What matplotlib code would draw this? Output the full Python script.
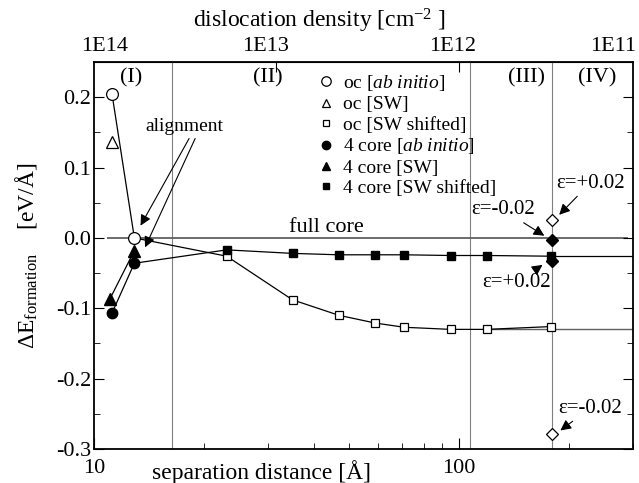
import numpy as np
import matplotlib.pyplot as plt
from matplotlib.ticker import MultipleLocator, NullLocator, FixedLocator, NullFormatter

plt.rcParams['font.family'] = 'Liberation Serif'
plt.rcParams['mathtext.fontset'] = 'custom'
plt.rcParams['mathtext.rm'] = 'Liberation Serif'
plt.rcParams['mathtext.it'] = 'Liberation Serif:italic'

# separation distance [A] and formation energy [eV/A]
sep_ab = [11.2, 12.9]
E_oc_ab = [0.205, 0.0]
E_4c_ab = [-0.107, -0.036]
sep_oc_sw = [11.2]
E_oc_sw = [0.137]
sep_4c_sw = [11.05, 12.9]
E_4c_sw = [-0.087, -0.018]
sep_sw = [23.1, 35.0, 46.9, 59.0, 70.8, 94.9, 119.1, 179.0]
E_oc_shift = [-0.026, -0.088, -0.110, -0.121, -0.127, -0.130, -0.130, -0.126]
E_4c_shift = [-0.017, -0.022, -0.024, -0.024, -0.024, -0.025, -0.025, -0.026]

# strained cells
sep_strain = [180.0, 180.0]
E_oc_strain = [0.025, -0.278]
E_4c_strain = [-0.003, -0.033]
strain_oc = ['ε=+0.02', 'ε=-0.02']
strain_4c = ['ε=-0.02', 'ε=+0.02']

region_labels = ['(I)', '(II)', '(III)', '(IV)']
region_x = [12.6, 30.0, 153, 239]
region_bounds = [16.4, 107, 180]

density = [1e14, 1e13, 1e12, 1e11]
density_labels = ['1E14', '1E13', '1E12', '1E11']

fig = plt.figure(figsize=(6.39, 4.83), dpi=100)
ax = fig.add_axes([94/639, 34/483, 539/639, 387/483])
ax.set_xscale('log')
ax.set_xlim(10, 300)
ax.set_ylim(-0.3, 0.25)

for xb in region_bounds:
    ax.axvline(xb, color='#808080', lw=0.8, zorder=1)
ax.hlines(0, 10.85, 290, color='#606060', lw=1.3, zorder=1)
ax.hlines(E_oc_shift[6], sep_sw[6], 300, color='#606060', lw=1.0, zorder=1)
ax.hlines(E_4c_shift[-1], sep_sw[-1], 300, color='k', lw=0.9, zorder=1)

# connecting lines
ax.plot(sep_ab + sep_sw, E_oc_ab + E_oc_shift, 'k-', lw=0.9, zorder=2)
ax.plot(sep_ab + sep_sw, E_4c_ab + E_4c_shift, 'k-', lw=0.9, zorder=2)
ax.plot(sep_4c_sw, E_4c_sw, 'k-', lw=0.9, zorder=2)

ax.plot(sep_ab, E_oc_ab, 'o', mfc='white', mec='k', ms=8.5, mew=0.9, zorder=4,
        label=r'oc [$\mathit{ab\ initio}$]')
ax.plot(sep_oc_sw, E_oc_sw, '^', mfc='white', mec='k', ms=8, mew=0.9, zorder=4,
        label='oc [SW]')
ax.plot(sep_sw, E_oc_shift, 's', mfc='white', mec='k', ms=6, mew=0.9, zorder=4,
        label='oc [SW shifted]')
ax.plot(sep_ab, E_4c_ab, 'o', mfc='k', mec='k', ms=7.5, zorder=4,
        label=r'4 core [$\mathit{ab\ initio}$]')
ax.plot(sep_4c_sw, E_4c_sw, '^', mfc='k', mec='k', ms=8, zorder=4,
        label='4 core [SW]')
ax.plot(sep_sw, E_4c_shift, 's', mfc='k', mec='k', ms=6, zorder=4,
        label='4 core [SW shifted]')
ax.plot(sep_strain, E_oc_strain, 'D', mfc='white', mec='k', ms=6.5, mew=0.9, zorder=5)
ax.plot(sep_strain, E_4c_strain, 'D', mfc='k', mec='k', ms=6.5, zorder=5)

ax.legend(loc='upper left', bbox_to_anchor=((318-94)/539, (449-73)/387),
          frameon=False, fontsize=14, handlelength=0.8, handletextpad=0.5,
          borderpad=0, borderaxespad=0, labelspacing=0.14, markerscale=0.8)

arrow = dict(arrowstyle='-|>', color='k', lw=0.8, mutation_scale=16, shrinkA=1, shrinkB=2)
ax.annotate(strain_oc[0], xy=(186, E_oc_strain[0] + 0.005), xytext=(229, 0.078),
            ha='center', va='center', fontsize=15, arrowprops=arrow)
ax.annotate(strain_4c[0], xy=(174, E_4c_strain[0] + 0.004), xytext=(132, 0.040),
            ha='center', va='center', fontsize=15, arrowprops=arrow)
ax.annotate(strain_4c[1], xy=(172, E_4c_strain[1] - 0.003), xytext=(144, -0.064),
            ha='center', va='center', fontsize=15, arrowprops=arrow)
ax.annotate(strain_oc[1], xy=(187, E_oc_strain[1] + 0.002), xytext=(229, -0.242),
            ha='center', va='center', fontsize=15, arrowprops=arrow)

ax.text(17.7, 0.159, 'alignment', ha='center', va='center', fontsize=14)
ax.annotate('', xy=(13.3, 0.014), xytext=(18.3, 0.143), arrowprops=arrow)
ax.annotate('', xy=(13.7, -0.017), xytext=(19.0, 0.143), arrowprops=arrow)

ax.text(43.4, 0.002, 'full core', ha='center', va='bottom', fontsize=16)

for lab, xr in zip(region_labels, region_x):
    ax.text(xr, 0.228, lab, ha='center', va='center', fontsize=16)

# ticks
ax.yaxis.set_major_locator(MultipleLocator(0.1))
ax.yaxis.set_minor_locator(MultipleLocator(0.05))
ax.set_yticks([0.2, 0.1, 0.0, -0.1, -0.2, -0.3])
ax.set_yticklabels(['0.2', '0.1', '0.0', '-0.1', '-0.2', '-0.3'])
ax.set_xticks([10, 100])
ax.set_xticklabels(['10', '100'])
ax.xaxis.set_minor_formatter(NullFormatter())
ax.tick_params(axis='y', which='both', direction='in', right=True, labelsize=16, pad=2)
ax.tick_params(axis='y', which='major', length=7)
ax.tick_params(axis='y', which='minor', length=4)
ax.tick_params(axis='x', which='both', direction='in', labelsize=16, pad=7)
ax.tick_params(axis='x', which='major', length=8)
ax.tick_params(axis='x', which='minor', length=4)
for s in ax.spines.values():
    s.set_linewidth(1.3)

# top axis: dislocation density
sep_density = [10 * np.sqrt(1e14 / d) for d in density]
top = ax.secondary_xaxis('top')
top.xaxis.set_major_locator(FixedLocator(sep_density[1:3]))
top.xaxis.set_minor_locator(NullLocator())
top.xaxis.set_major_formatter(NullFormatter())
top.tick_params(direction='in', length=7)
label_shift = [11, -11, -6, -28]
for xd, lab, dx in zip(sep_density, density_labels, label_shift):
    ax.annotate(lab, xy=(xd, 1.0), xycoords=('data', 'axes fraction'),
                xytext=(dx * 0.72, 4), textcoords='offset points',
                ha='center', va='bottom', fontsize=16, annotation_clip=False)

ax.text(0.419, 1.105, r'dislocation density [cm$^{-2}$ ]', transform=ax.transAxes,
        ha='center', va='center', fontsize=17)
ax.text(0.31, -0.059, 'separation distance [Å]', transform=ax.transAxes,
        ha='center', va='center', fontsize=17)
ax.set_ylabel(r'ΔE$_{\mathrm{formation}}$    [eV/Å]', fontsize=17, labelpad=12)

fig.savefig('out.png', dpi=100)
